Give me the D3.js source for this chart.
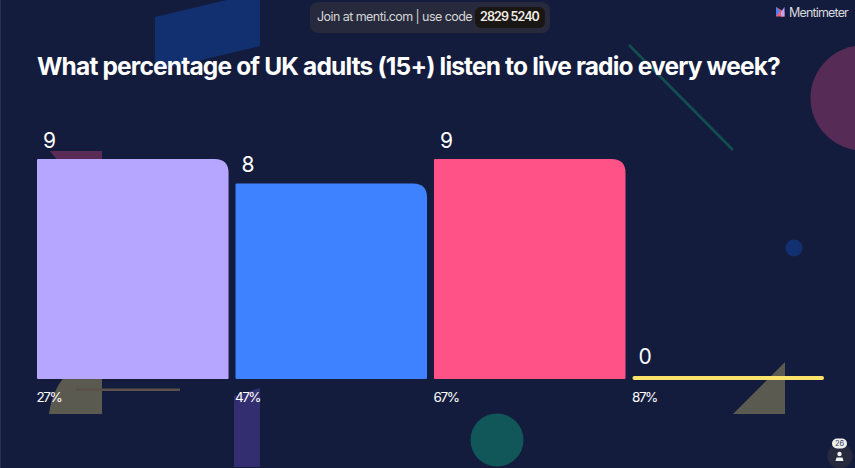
<!DOCTYPE html>
<html>
<head>
<meta charset="utf-8">
<script src="https://cdn.jsdelivr.net/npm/d3@7"></script>
<style>
  html, body { margin: 0; padding: 0; background: #141c3e; overflow: hidden; }
  text { font-family: Inter, "Noto Sans", sans-serif; }
</style>
</head>
<body>
<div id="chart"></div>
<script>
const categories = ["27%", "47%", "67%", "87%"];
const values = [9, 8, 9, 0];
const barColors = ["#b7a6ff", "#3e82ff", "#ff5287", "#fbe36c"];

const title = "What percentage of UK adults (15+) listen to live radio every week?";

const width = 855;
const height = 468;

const svg = d3.select("#chart")
  .append("svg")
  .attr("width", width)
  .attr("height", height)
  .style("display", "block");

// squeeze a text to the wanted width with letter spacing
function fit(sel, w) {
  sel.each(function () {
    const n = this.getComputedTextLength();
    const chars = this.textContent.length;
    d3.select(this).attr("letter-spacing", (w - n) / chars);
  });
  return sel;
}

svg.append("rect").attr("width", width).attr("height", height).attr("fill", "#141c3e");
svg.append("rect").attr("width", 1).attr("height", height).attr("fill", "#2a3048");

// Background decoration
const deco = svg.append("g");
deco.append("path").attr("d", "M155 17L260 -8V46L155 71Z").attr("fill", "#12306f");
deco.append("path").attr("d", "M50 151H102V170H65Z").attr("fill", "#5a2b56");
deco.append("path").attr("d", "M102 375V414H49C51 398 57 385 66 375Z").attr("fill", "#5a5a50");
deco.append("rect").attr("x", 76).attr("y", 388.5).attr("width", 104).attr("height", 2.5).attr("fill", "#5b5148");
deco.append("path").attr("d", "M234 396L260 388V467H234Z").attr("fill", "#322e70");
deco.append("circle").attr("cx", 497).attr("cy", 440).attr("r", 26.5).attr("fill", "#11575a");
deco.append("path").attr("d", "M785 362V414H733Z").attr("fill", "#5a5a50");
deco.append("circle").attr("cx", 794).attr("cy", 248).attr("r", 8.5).attr("fill", "#12306f");
deco.append("circle").attr("cx", 863).attr("cy", 98).attr("r", 52.5).attr("fill", "#562c56");
deco.append("line").attr("x1", 629).attr("y1", 45).attr("x2", 733).attr("y2", 150)
  .attr("stroke", "#12504f").attr("stroke-width", 2.5);

// Scales
const x = d3.scaleBand()
  .domain(categories)
  .range([37, 824])
  .paddingInner(0.035);

const y = d3.scaleLinear()
  .domain([0, 9])
  .range([379, 159]);

const r = 14;
const barPath = (d, i) => {
  const x0 = x(categories[i]);
  const x1 = x0 + x.bandwidth();
  const top = y(d);
  const base = y(0);
  return `M${x0 + 1} ${base}Q${x0} ${base} ${x0} ${base - 1}V${top + 1}Q${x0} ${top} ${x0 + 1} ${top}` +
    `H${x1 - r}Q${x1} ${top} ${x1} ${top + r}V${base - 1}Q${x1} ${base} ${x1 - 1} ${base}Z`;
};

svg.append("g").selectAll("path")
  .data(values.map((v, i) => i).filter(i => values[i] > 0))
  .join("path")
  .attr("d", i => barPath(values[i], i))
  .attr("fill", i => barColors[i]);

// Zero value is drawn as a thin rule
svg.append("g").selectAll("rect")
  .data(values.map((v, i) => i).filter(i => values[i] === 0))
  .join("rect")
  .attr("x", i => x(categories[i]))
  .attr("y", i => y(values[i]) - 3)
  .attr("width", x.bandwidth())
  .attr("height", 4)
  .attr("rx", 2)
  .attr("fill", i => barColors[i]);

// Value labels
svg.append("g").selectAll("text")
  .data(values)
  .join("text")
  .attr("x", (d, i) => x(categories[i]) + 6)
  .attr("y", (d, i) => y(d) - (d === 0 ? 15 : 11))
  .attr("fill", "#ffffff")
  .attr("font-size", 21)
  .text(d => d);

// Category labels
fit(svg.append("g").selectAll("text")
  .data(categories)
  .join("text")
  .attr("x", d => x(d) - 0.5)
  .attr("y", 402)
  .attr("fill", "#ffffff")
  .attr("font-size", 13.5)
  .text(d => d), 25);

// Title
fit(svg.append("text")
  .attr("x", 37)
  .attr("y", 75)
  .attr("fill", "#ffffff")
  .attr("font-size", 24.5)
  .attr("font-weight", 700)
  .text(title), 743);

// Join code pill
svg.append("rect").attr("x", 310).attr("y", 2).attr("width", 240).attr("height", 31).attr("rx", 8).attr("fill", "#272a3c");
svg.append("rect").attr("x", 475).attr("y", 7).attr("width", 70).attr("height", 21).attr("rx", 6).attr("fill", "#1a1614");
fit(svg.append("text").attr("x", 317).attr("y", 21).attr("fill", "#d6d6d6").attr("font-size", 12.5)
  .text("Join at menti.com | use code"), 155);
fit(svg.append("text").attr("x", 480).attr("y", 21).attr("fill", "#f0ede6").attr("font-size", 12.5).attr("font-weight", 600)
  .text("2829 5240"), 59);

// Logo
svg.append("path").attr("d", "M776 7L784.5 12V16.5H776Z").attr("fill", "#ff5a5a");
svg.append("path").attr("d", "M776 7L780 11L776 16.5Z").attr("fill", "#3e82ff");
svg.append("path").attr("d", "M781 12L784.5 7V16.5H781Z").attr("fill", "#b7a6ff");
fit(svg.append("text").attr("x", 789).attr("y", 17).attr("fill", "#d8d8dc").attr("font-size", 12.5)
  .text("Mentimeter"), 59);

// Participant count
svg.append("circle").attr("cx", 840).attr("cy", 456).attr("r", 12.5).attr("fill", "#272a3c");
svg.append("rect").attr("x", 832).attr("y", 438.5).attr("width", 15).attr("height", 10).attr("rx", 5).attr("fill", "#efefef");
svg.append("text").attr("x", 839.5).attr("y", 446).attr("text-anchor", "middle").attr("fill", "#3a3f55").attr("font-size", 7.5).text("26");
svg.append("circle").attr("cx", 839.5).attr("cy", 454).attr("r", 2.2).attr("fill", "#f2f2f2");
svg.append("path").attr("d", "M835.5 461L836.5 457.5H842.5L843.5 461Z").attr("fill", "#f2f2f2");
</script>
</body>
</html>
